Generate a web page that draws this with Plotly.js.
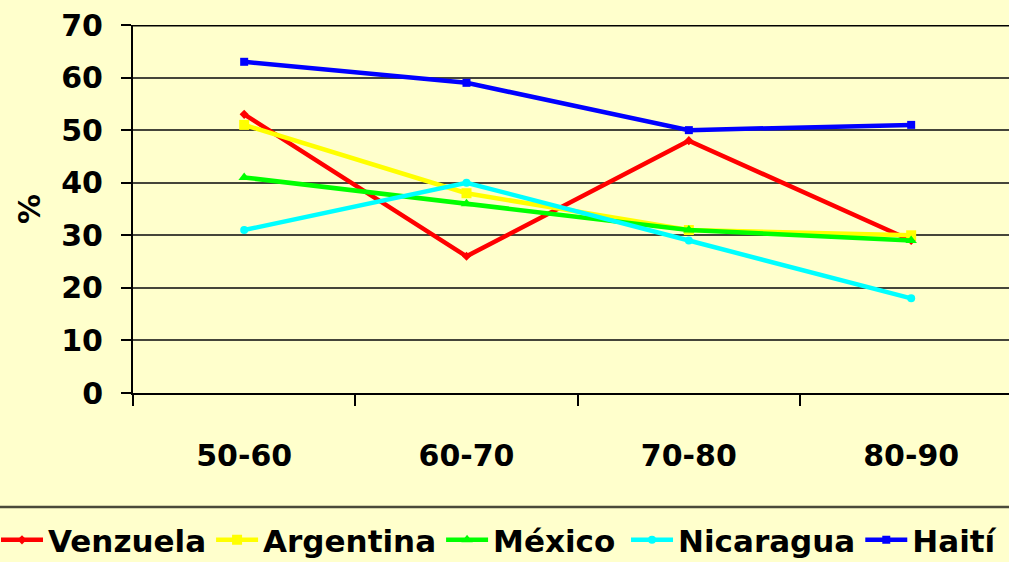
<!DOCTYPE html>
<html>
<head>
<meta charset="utf-8">
<script src="https://cdn.plot.ly/plotly-3.0.1.min.js"></script>
<style>
  html, body { margin: 0; padding: 0; background: #ffffcc; }
  #chart { width: 1009px; height: 562px; }
</style>
</head>
<body>
<div id="chart"></div>
<script>
// Decades shown along the horizontal axis
const decades = ['50-60', '60-70', '70-80', '80-90'];

// Percentages per country
const venezuela = [53, 26, 48, 29];
const argentina = [51, 38, 31, 30];
const mexico    = [41, 36, 31, 29];
const nicaragua = [31, 40, 29, 18];
const haiti     = [63, 59, 50, 51];

const yTicks = [0, 10, 20, 30, 40, 50, 60, 70];

const tickFont = { family: 'DejaVu Sans, sans-serif', size: 30, color: '#000000', weight: 'bold' };
const legendFont = { family: 'DejaVu Sans, sans-serif', size: 31, color: '#000000', weight: 'bold' };

function series(name, values, color, symbol, size, legendId) {
  return {
    type: 'scatter',
    mode: 'lines+markers',
    name: name,
    legend: legendId,
    x: decades,
    y: values,
    line: { color: color, width: 4.5 },
    marker: { color: color, symbol: symbol, size: size }
  };
}

const traces = [
  series('Venzuela', venezuela, '#ff0000', 'diamond', 7, 'legend'),
  series('Argentina', argentina, '#ffff00', 'square', 10, 'legend'),
  series('México', mexico, '#00ff00', 'triangle-up', 10, 'legend'),
  series('Nicaragua', nicaragua, '#00ffff', 'circle', 8, 'legend2'),
  series('Haití', haiti, '#0000ff', 'square', 8, 'legend2')
];

// the key row below the chart is split in two groups so it stays on one line
function keyRow(x) {
  return {
    orientation: 'h',
    x: x, xanchor: 'left',
    y: -0.40, yanchor: 'middle',
    font: legendFont,
    bgcolor: 'rgba(0,0,0,0)',
    itemwidth: 42,
    tracegroupgap: 0
  };
}

const layout = {
  width: 1009,
  height: 562,
  paper_bgcolor: '#ffffcc',
  plot_bgcolor: '#ffffcc',
  font: tickFont,
  margin: { l: 133, r: 0, t: 25, b: 169, pad: 0, autoexpand: false },
  showlegend: true,
  legend: keyRow(-0.1564),
  legend2: keyRow(0.5628),
  xaxis: {
    type: 'category',
    categoryorder: 'array',
    categoryarray: decades,
    range: [-0.5, 3.44],
    showgrid: false,
    zeroline: false,
    showline: true,
    linecolor: '#000000',
    linewidth: 2,
    ticks: 'outside',
    tickson: 'boundaries',
    ticklen: 11,
    tickwidth: 2,
    tickcolor: '#000000',
    ticklabelstandoff: 35,
    tickfont: tickFont,
    fixedrange: true
  },
  yaxis: {
    range: [0, 70],
    tickvals: yTicks,
    ticktext: yTicks.map(String),
    showgrid: true,
    gridcolor: '#45453a',
    gridwidth: 2,
    zeroline: false,
    showline: true,
    linecolor: '#000000',
    linewidth: 2,
    ticks: 'outside',
    ticklen: 10,
    tickwidth: 2,
    tickcolor: '#000000',
    ticklabelstandoff: 12,
    tickfont: tickFont,
    title: { text: '%', font: tickFont, standoff: 12 },
    fixedrange: true
  },
  shapes: [
    // heavy top border of the plotting area
    { type: 'line', xref: 'paper', yref: 'y', x0: 0, x1: 1, y0: 70, y1: 70,
      line: { color: '#000000', width: 3 } },
    // separator above the key row
    { type: 'line', xref: 'paper', yref: 'paper', x0: -0.16, x1: 1.01, y0: -0.31, y1: -0.31,
      line: { color: '#4a4a3a', width: 2.5 } }
  ]
};

Plotly.newPlot('chart', traces, layout, { displayModeBar: false, staticPlot: true });
</script>
</body>
</html>
